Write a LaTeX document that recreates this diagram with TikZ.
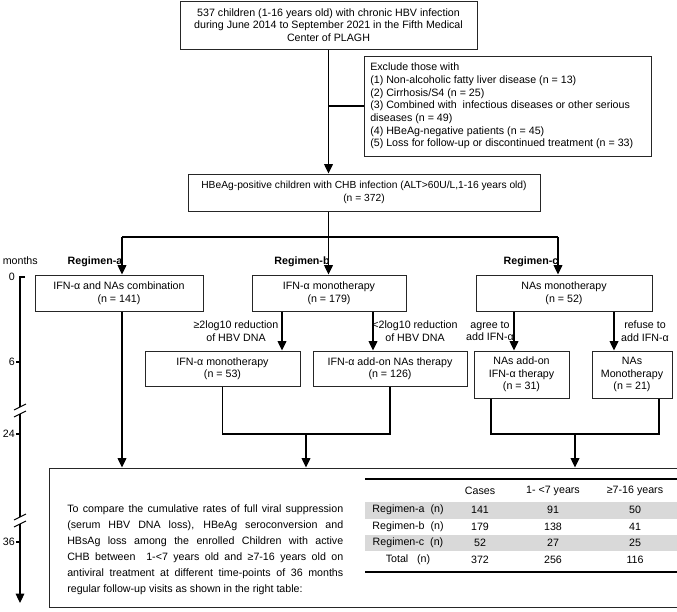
\documentclass[tikz,border=0pt]{standalone}
\usepackage{fontspec}
\setmainfont{Liberation Sans}
\usetikzlibrary{arrows.meta,fit}
\begin{document}
\begin{tikzpicture}[x=0.75pt,y=-0.75pt,
  box/.style={draw=black!85,line width=0.75pt,inner sep=0pt},
  lab/.style={font=\fontsize{8}{9.4}\selectfont,inner sep=0pt,align=center,text=black},
  reg/.style={lab,font=\fontsize{8}{9.4}\selectfont\bfseries},
  conn/.style={line width=1pt,black},
  arr/.style={conn,-{Triangle[length=7pt,width=6.5pt]}},
  thin/.style={line width=0.8pt,black},
]
\useasboundingbox (0,0) rectangle (677,611);

% ---- boxes
\node[box,fit={(180,1)(477,49)}] (top) {};
\node[lab] (toptxt) at (top.center) {537 children (1-16 years old) with chronic HBV infection\\during June 2014 to September 2021 in the Fifth Medical\\Center of PLAGH};

\node[box,fit={(364,56)(651,156)}] (excl) {};
\node[lab,align=left,anchor=west,font=\fontsize{8}{9.5}\selectfont] (excltxt) at (370,106) {Exclude those with\\(1) Non-alcoholic fatty liver disease (n = 13)\\(2) Cirrhosis/S4 (n = 25)\\(3) Combined with\ \ infectious diseases or other serious\\diseases (n = 49)\\(4) HBeAg-negative patients (n = 45)\\(5) Loss for follow-up or discontinued treatment (n = 33)};

\node[box,fit={(188,174)(540,211)}] (heb) {};
\node[lab,font=\fontsize{7.7}{9.4}\selectfont] (hebtxt) at (heb.center) {HBeAg-positive children with CHB infection (ALT>60U/L,1-16 years old)\\(n = 372)};

\node[box,fit={(35,275)(203,311)}] (ba) {};
\node[lab] (batxt) at (ba.center) {IFN-α and NAs combination\\(n = 141)};
\node[box,fit={(252,275)(406,311)}] (bb) {};
\node[lab] (bbtxt) at (bb.center) {IFN-α monotherapy\\(n = 179)};
\node[box,fit={(476,275)(652,311)}] (bc) {};
\node[lab] (bctxt) at (bc.center) {NAs monotherapy\\(n = 52)};

\node[box,fit={(145,351)(300,386)}] (b1) {};
\node[lab] (b1txt) at (b1.center) {IFN-α monotherapy\\(n = 53)};
\node[box,fit={(313,351)(467,386)}] (b2) {};
\node[lab] (b2txt) at (b2.center) {IFN-α add-on NAs therapy\\(n = 126)};
\node[box,fit={(474,351)(569,398)}] (c1) {};
\node[lab] (c1txt) at (c1.center) {NAs add-on\\IFN-α therapy\\(n = 31)};
\node[box,fit={(592,351)(672,398)}] (c2) {};
\node[lab] (c2txt) at (c2.center) {NAs\\Monotherapy\\(n = 21)};

\node[box,fit={(49,468)(677,607)}] (bot) {};

% ---- regimen labels
\node[reg] (rega) at (95,262) {Regimen-a};
\node[reg] (regb) at (302,262) {Regimen-b};
\node[reg] (regc) at (531,262) {Regimen-c};

% ---- branch labels
\node[lab] (lb1) at (236,331) {≥2log10 reduction\\of HBV DNA};
\node[lab] (lb2) at (415,331) {<2log10 reduction\\of HBV DNA};
\node[lab] (lc1) at (490,331) {agree to\\add IFN-α};
\node[lab] (lc2) at (645,331) {refuse to\\add IFN-α};

% ---- connectors
\coordinate (hy) at (0,237);
\coordinate (ha) at (122,237);
\coordinate (hc) at (558,237);
\draw[arr] (top.south) -- (top.south |- heb.north);
\draw[conn] (top.south |- excl.west) -- (excl.west);
\draw[conn] (heb.south -| top.south) -- (top.south |- hy);
\draw[conn] (ha) -- (hc);
\draw[arr] (ha) -- (ha |- ba.north);
\draw[arr] (top.south |- hy) -- (top.south |- bb.north);
\draw[arr] (hc) -- (hc |- bc.north);

\coordinate (xbl) at (282,0);
\coordinate (xbr) at (373,0);
\coordinate (xcl) at (514,0);
\coordinate (xcr) at (614,0);
\draw[arr] (bb.south -| xbl) -- (b1.north -| xbl);
\draw[arr] (bb.south -| xbr) -- (b2.north -| xbr);
\draw[arr] (bc.south -| xcl) -- (c1.north -| xcl);
\draw[arr] (bc.south -| xcr) -- (c2.north -| xcr);

\coordinate (mb) at (0,434);
\coordinate (mbc) at (306,434);
\coordinate (mcc) at (575,434);
\coordinate (xc1) at (491,0);
\coordinate (xc2) at (659,0);
\draw[conn] (b1.south) -- (b1.south |- mb) -- (b2.south |- mb) -- (b2.south);
\draw[conn] (c1.south -| xc1) -- (xc1 |- mb) -- (xc2 |- mb) -- (c2.south -| xc2);
\draw[arr] (mbc) -- (mbc |- bot.north);
\draw[arr] (mcc) -- (mcc |- bot.north);
\draw[arr] (ba.south -| ha) -- (ha |- bot.north);

% ---- bottom paragraph
\node[lab,align=left,anchor=west,font=\fontsize{8}{12}\selectfont] (para) at (67,550) {%
\makebox[207pt][s]{To compare the cumulative rates of full viral suppression}\\
\makebox[207pt][s]{(serum HBV DNA loss), HBeAg seroconversion and}\\
\makebox[207pt][s]{HBsAg loss among the enrolled Children with active}\\
\makebox[207pt][s]{CHB between\ \ 1-<7 years old and ≥7-16 years old on}\\
\makebox[207pt][s]{antiviral treatment at different time-points of 36 months}\\
regular follow-up visits as shown in the right table:};

% ---- table
\fill[black!15] (365,501.5) rectangle (677,518.5);
\fill[black!15] (365,534.5) rectangle (677,551);
\draw[line width=1.1pt] (365,479) -- (677,479);
\draw[line width=1.1pt] (365,572) -- (677,572);
\node[lab] (h1) at (480,491) {Cases};
\node[lab] (h2) at (553,491) {1- <7 years};
\node[lab] (h3) at (635,491) {≥7-16 years};
\node[lab] (r1) at (408,510) {Regimen-a\ \ (n)};
\node[lab] (r1a) at (480,510) {141};
\node[lab] (r1b) at (553,510) {91};
\node[lab] (r1c) at (635,510) {50};
\node[lab] (r2) at (408,526.5) {Regimen-b\ \ (n)};
\node[lab] (r2a) at (480,526.5) {179};
\node[lab] (r2b) at (553,526.5) {138};
\node[lab] (r2c) at (635,526.5) {41};
\node[lab] (r3) at (408,543) {Regimen-c\ \ (n)};
\node[lab] (r3a) at (480,543) {52};
\node[lab] (r3b) at (553,543) {27};
\node[lab] (r3c) at (635,543) {25};
\node[lab] (r4) at (408,560) {Total\ \ \ (n)};
\node[lab] (r4a) at (480,560) {372};
\node[lab] (r4b) at (553,560) {256};
\node[lab] (r4c) at (635,560) {116};

% ---- timeline
\node[lab,anchor=east] (months) at (38,261) {months};
\node[lab,anchor=east] (t0) at (15,277) {0};
\node[lab,anchor=east] (t6) at (15,362) {6};
\node[lab,anchor=east] (t24) at (15,434) {24};
\node[lab,anchor=east] (t36) at (15,542) {36};
\coordinate (a0) at (20,277);
\coordinate (a1) at (20,407);
\coordinate (a2) at (20,414);
\coordinate (a3) at (20,517);
\coordinate (a4) at (20,524);
\coordinate (a5) at (20,603);
\draw[thin] (25,277) -- (a0) -- (a1);
\draw[thin] (a2) -- (a3);
\draw[arr,line width=0.8pt] (a4) -- (a5);
\draw[thin] (16,362) -- (20,362);
\draw[thin] (16,434) -- (20,434);
\draw[thin] (16,542) -- (20,542);
\draw[thin] (14,410) -- (26,404);
\draw[thin] (14,417) -- (26,411);
\draw[thin] (14,520) -- (26,514);
\draw[thin] (14,527) -- (26,521);
\end{tikzpicture}
\end{document}
